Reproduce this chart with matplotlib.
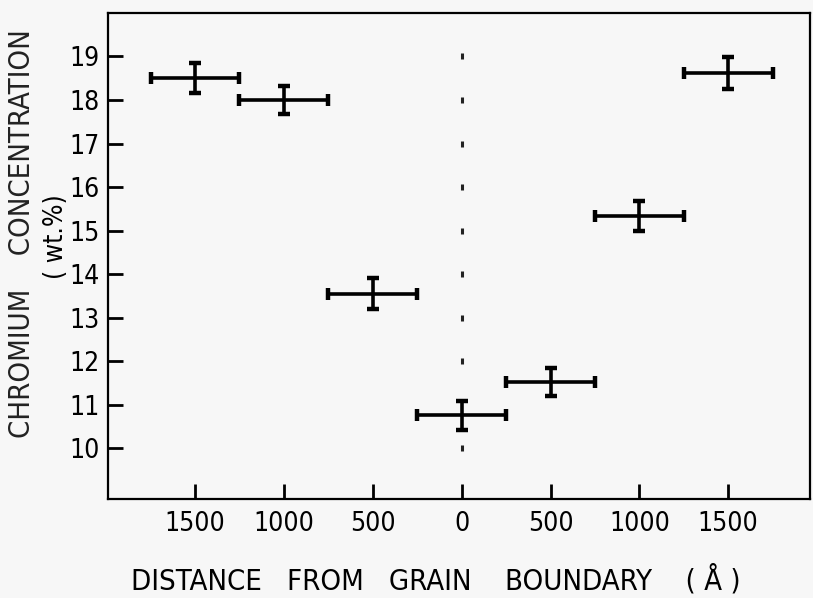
import matplotlib.pyplot as plt
import numpy as np

# distance from grain boundary (Angstrom), negative = left side
distance = [-1500, -1000, -500, 0, 500, 1000, 1500]
chromium = [18.5, 18.0, 13.55, 10.75, 11.52, 15.33, 18.62]
dist_err = [250, 250, 250, 250, 250, 250, 250]
cr_err = [0.35, 0.33, 0.35, 0.33, 0.32, 0.35, 0.37]

x_ticks = [-1500, -1000, -500, 0, 500, 1000, 1500]
x_ticklabels = ['1500', '1000', '500', '0', '500', '1000', '1500']
y_ticks = [10, 11, 12, 13, 14, 15, 16, 17, 18, 19]
boundary_dots = [10, 12, 13, 14, 15, 16, 17, 18, 19]

plt.rcParams['font.family'] = ['DejaVu Sans']
plt.rcParams['font.stretch'] = 'condensed'

fig = plt.figure(figsize=(8.13, 5.98), dpi=100, facecolor='#f7f7f7')
ax = fig.add_axes([0.1328, 0.1656, 0.8635, 0.8127])
ax.set_facecolor('#f7f7f7')

# grain boundary marked as a sparse dotted line
ax.plot([0] * len(boundary_dots), boundary_dots, linestyle='none', marker='|',
        markersize=4, markeredgewidth=2.2, color='#222222')

ax.errorbar(distance, chromium, xerr=dist_err, yerr=cr_err, fmt='none',
            ecolor='black', elinewidth=2.6, capsize=4.5, capthick=3.2)

ax.set_xlim(-1990, 1960)
ax.set_ylim(8.83, 20.0)

ax.set_xticks(x_ticks)
ax.set_xticklabels(x_ticklabels)
ax.set_yticks(y_ticks)

ax.tick_params(direction='in', length=11, width=2, labelsize=19, pad=6)
ax.tick_params(axis='x', pad=9)
for s in ax.spines.values():
    s.set_linewidth(1.6)

ax.set_xlabel('DISTANCE   FROM   GRAIN    BOUNDARY    ( Å )', fontsize=21)
ax.xaxis.set_label_coords(0.467, -0.135)

ax.text(-0.122, 0.545, 'CHROMIUM    CONCENTRATION', transform=ax.transAxes,
        rotation=90, ha='center', va='center', fontsize=21, color='#222222')
ax.text(-0.074, 0.54, '( wt.%)', transform=ax.transAxes,
        rotation=90, ha='center', va='center', fontsize=19)

plt.savefig('out.png', dpi=100, facecolor=fig.get_facecolor())
